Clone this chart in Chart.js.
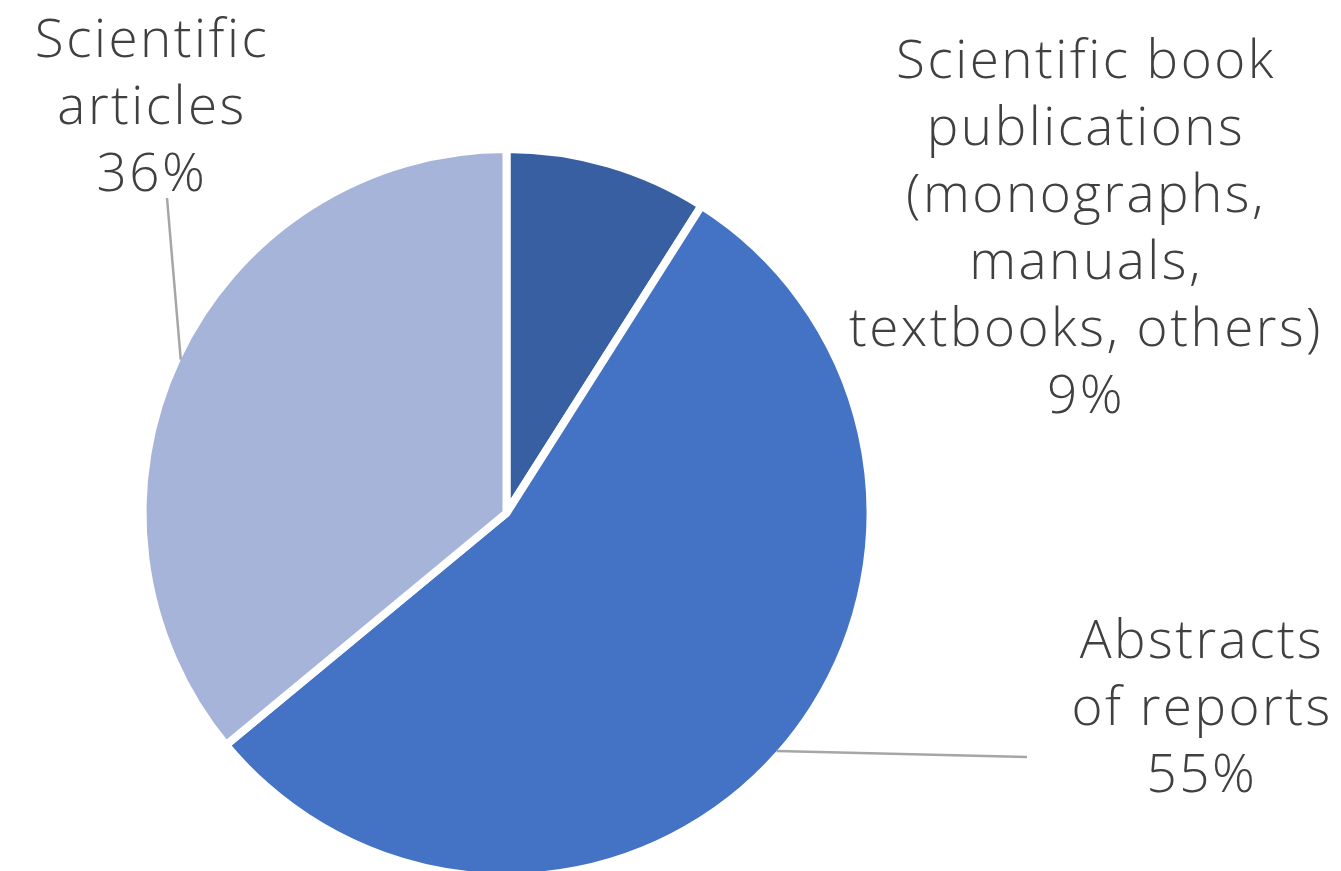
<!DOCTYPE html>
<html>
<head>
<meta charset="utf-8">
<script src="https://cdn.jsdelivr.net/npm/chart.js@4/dist/chart.umd.min.js"></script>
<style>
  html, body { margin: 0; padding: 0; background: #ffffff; }
  #wrap { width: 1341px; height: 871px; position: relative; }
</style>
</head>
<body>
<div id="wrap"><canvas id="pieChart"></canvas></div>
<script>
// ----------------- Datos -----------------

const categories = [
  'Scientific book publications (monographs, manuals, textbooks, others)',
  'Abstracts of reports',
  'Scientific articles'
];
const shares = [9, 55, 36];
const sliceColors = ['#375FA2', '#4472C4', '#A7B4DA'];

// lineas de cada etiqueta (como en el original)
const labelLines = [
  ['Scientific book', 'publications', '(monographs,', 'manuals,', 'textbooks, others)'],
  ['Abstracts', 'of reports'],
  ['Scientific', 'articles']
];

// ----------------- Layout de etiquetas -----------------

const textColor = '#404040';
const leaderColor = '#A6A6A6';
const fontSpec = '300 53px "Open Sans", "Noto Sans", sans-serif';
const letterGap = '2.5px';
const lineHeight = 67;

// x centro de texto, y de la primera linea base; leader: punto final
const labelLayout = [
  { x: 1086, y: 78, leader: null },
  { x: 1202, y: 658, leader: { x: 1027, y: 757 } },
  { x: 152, y: 57, leader: { x: 167, y: 198 } }
];

// ----------------- Plugin de etiquetas -----------------

const pieLabels = {
  id: 'pieLabels',
  afterDatasetsDraw(chart) {
    const ctx = chart.ctx;
    const meta = chart.getDatasetMeta(0);
    const total = shares.reduce((a, b) => a + b, 0);

    meta.data.forEach((arc, i) => {
      const lay = labelLayout[i];
      const mid = (arc.startAngle + arc.endAngle) / 2;

      if (lay.leader) {
        const r = arc.outerRadius - 4;
        ctx.save();
        ctx.strokeStyle = leaderColor;
        ctx.lineWidth = 2.5;
        ctx.beginPath();
        ctx.moveTo(arc.x + Math.cos(mid) * r, arc.y + Math.sin(mid) * r);
        ctx.lineTo(lay.leader.x, lay.leader.y);
        ctx.stroke();
        ctx.restore();
      }

      const lines = labelLines[i].concat([Math.round(shares[i] / total * 100) + '%']);
      ctx.save();
      ctx.font = fontSpec;
      ctx.letterSpacing = letterGap;
      ctx.fillStyle = textColor;
      ctx.textAlign = 'center';
      ctx.textBaseline = 'alphabetic';
      lines.forEach((txt, k) => {
        ctx.fillText(txt, lay.x, lay.y + k * lineHeight);
      });
      ctx.restore();
    });
  }
};

// ----------------- Grafico -----------------

function initChart() {
  const canvas = document.getElementById('pieChart');
  const ctx = canvas.getContext('2d');

  new Chart(ctx, {
    type: 'pie',
    data: {
      labels: categories,
      datasets: [{
        data: shares,
        backgroundColor: sliceColors,
        borderColor: '#ffffff',
        borderWidth: 8,
        hoverOffset: 0
      }]
    },
    options: {
      responsive: true,
      maintainAspectRatio: false,
      animation: false,
      radius: 364,
      layout: {
        padding: { left: 0, right: 328, top: 155, bottom: 0 }
      },
      events: [],
      plugins: {
        legend: { display: false },
        tooltip: { enabled: false }
      }
    },
    plugins: [pieLabels]
  });
}

document.addEventListener('DOMContentLoaded', initChart);
</script>
</body>
</html>
